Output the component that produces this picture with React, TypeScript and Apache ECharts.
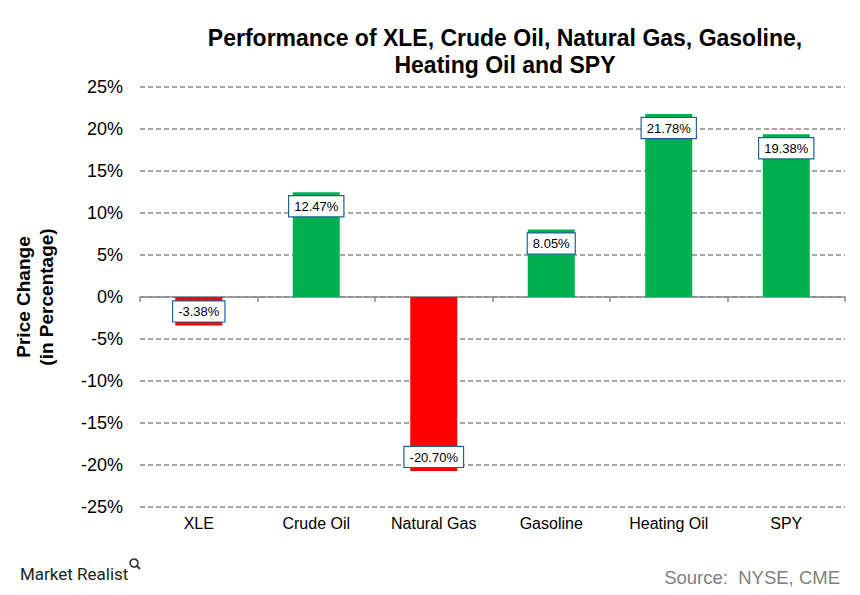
import React, { useEffect, useRef } from "react";
import * as echarts from "echarts";

const categories = ["XLE", "Crude Oil", "Natural Gas", "Gasoline", "Heating Oil", "SPY"];
const values = [-3.38, 12.47, -20.7, 8.05, 21.78, 19.38];
const yTicks = { min: -25, max: 25, interval: 5 };

const FONT = "'Liberation Sans', Arial, sans-serif";

export default function App() {
  const ref = useRef<HTMLDivElement>(null);
  useEffect(() => {
    document.body.style.margin = "0";
    if (!ref.current) return;
    const chart = echarts.init(ref.current, null, { renderer: "svg" });
    chart.setOption({
      animation: false,
      backgroundColor: "#ffffff",
      textStyle: { fontFamily: FONT },
      title: {
        text: "Performance of XLE, Crude Oil, Natural Gas, Gasoline,\nHeating Oil and SPY",
        left: 500,
        top: 19,
        textAlign: "center",
        textStyle: { fontFamily: FONT, fontSize: 23, fontWeight: "bold", color: "#000", lineHeight: 27 },
      },
      grid: { left: 140, right: 15, top: 87, bottom: 88, containLabel: false },
      xAxis: [
        {
          type: "category",
          data: categories,
          position: "bottom",
          axisLine: { show: false, onZero: false },
          axisTick: { show: false },
          axisLabel: { fontFamily: FONT, fontSize: 16, color: "#000", margin: 8 },
          splitLine: { show: false },
        },
        {
          type: "category",
          data: categories,
          position: "top",
          axisLine: { show: true, onZero: true, lineStyle: { color: "#888888", width: 1.5 } },
          axisTick: { show: true, inside: true, length: 5, lineStyle: { color: "#888888", width: 1.5 } },
          axisLabel: { show: false },
          splitLine: { show: false },
        },
      ],
      yAxis: {
        type: "value",
        min: yTicks.min,
        max: yTicks.max,
        interval: yTicks.interval,
        name: "Price Change\n(in Percentage)",
        nameLocation: "middle",
        nameGap: 82,
        nameTextStyle: { fontFamily: FONT, fontSize: 19, fontWeight: "bold", color: "#000", lineHeight: 23 },
        axisLine: { show: false },
        axisTick: { show: false },
        axisLabel: { fontFamily: FONT, fontSize: 18, color: "#000", margin: 17, formatter: "{value}%" },
        splitLine: { show: true, lineStyle: { color: "#888888", type: [5, 3], width: 1.5 } },
      },
      series: [
        {
          type: "bar",
          xAxisIndex: 0,
          barWidth: "40%",
          data: values.map((v) => ({
            value: v,
            itemStyle: { color: v >= 0 ? "#00b050" : "#ff0000" },
            label: { position: v >= 0 ? "insideTop" : "insideBottom" },
          })),
          label: {
            show: true,
            distance: 4,
            formatter: (p: any) => p.value.toFixed(2) + "%",
            fontFamily: FONT,
            fontSize: 13,
            color: "#000",
            backgroundColor: "#ffffff",
            borderColor: "#1f6391",
            borderWidth: 1.2,
            padding: [4, 5, 3, 5],
          },
        },
      ],
      graphic: [
        {
          type: "text",
          left: 20,
          top: 565,
          style: { text: "Market Realist", fontFamily: "Roboto, " + FONT, fontSize: 17, fill: "#222" },
        },
        {
          type: "circle",
          shape: { cx: 134, cy: 563, r: 4 },
          style: { fill: "none", stroke: "#333", lineWidth: 1.6 },
        },
        {
          type: "line",
          shape: { x1: 137, y1: 566, x2: 140, y2: 569 },
          style: { stroke: "#333", lineWidth: 2 },
        },
        {
          type: "text",
          right: 20,
          top: 568,
          style: { text: "Source:  NYSE, CME", fontFamily: FONT, fontSize: 18.5, fill: "#7f7f7f" },
        },
      ],
    });
    return () => chart.dispose();
  }, []);
  return <div ref={ref} style={{ width: 860, height: 595 }} />;
}
